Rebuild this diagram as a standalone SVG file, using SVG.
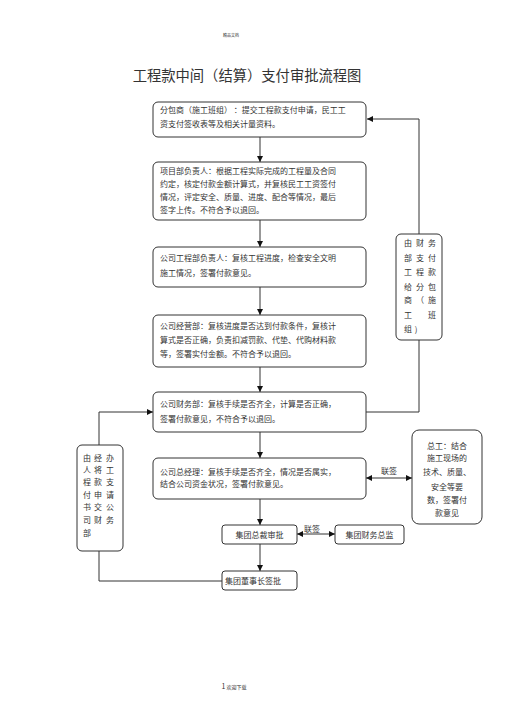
<svg xmlns="http://www.w3.org/2000/svg" width="505" height="714" viewBox="0 0 505 714">
<style>
text{font-family:"Noto Sans CJK SC","Noto Sans",sans-serif;fill:#333}
.t{font-size:8px}
.box{fill:#fff;stroke:#333;stroke-width:1}
.ln{fill:none;stroke:#333;stroke-width:1}
</style>
<defs>
<marker id="ah" viewBox="0 0 10 10" refX="10" refY="5" markerWidth="6" markerHeight="6" orient="auto-start-reverse" markerUnits="userSpaceOnUse">
<path d="M0,0L10,5L0,10z" fill="#111"/>
</marker>
</defs>
<rect width="505" height="714" fill="#fff"/>
<text x="231" y="37" font-size="4" text-anchor="middle" fill="#888">精品文档</text>
<text x="247" y="81" font-size="14.3" text-anchor="middle">工程款中间（结算）支付审批流程图</text>

<g id="connectors">
<line class="ln" x1="260" y1="137" x2="260" y2="162" marker-end="url(#ah)"/>
<line class="ln" x1="260" y1="220" x2="260" y2="247" marker-end="url(#ah)"/>
<line class="ln" x1="260" y1="287" x2="260" y2="315" marker-end="url(#ah)"/>
<line class="ln" x1="260" y1="367" x2="260" y2="392" marker-end="url(#ah)"/>
<line class="ln" x1="260" y1="432" x2="260" y2="458" marker-end="url(#ah)"/>
<line class="ln" x1="260" y1="499" x2="260" y2="525" marker-end="url(#ah)"/>
<line class="ln" x1="260" y1="544" x2="260" y2="571" marker-end="url(#ah)"/>
<polyline class="ln" points="366,412 419,412 419,340"/>
<polyline class="ln" points="419,234 419,119 367,119" marker-end="url(#ah)"/>
<polyline class="ln" points="222,581 99,581 99,551"/>
<polyline class="ln" points="99,445 99,412 153,412" marker-end="url(#ah)"/>
<line class="ln" x1="366" y1="478" x2="412" y2="478" marker-start="url(#ah)" marker-end="url(#ah)"/>
<line class="ln" x1="297" y1="534" x2="335" y2="534" marker-start="url(#ah)" marker-end="url(#ah)"/>
<text class="t" x="389" y="474" text-anchor="middle">联签</text>
<text class="t" x="312" y="532" text-anchor="middle">联签</text>
</g>

<g id="n1">
<rect class="box" x="153" y="102" width="213" height="35" rx="5"/>
<text class="t" x="160" y="113">分包商（施工班组） ：提交工程款支付申请，民工工</text>
<text class="t" x="160" y="127">资支付签收表等及相关计量资料。</text>
</g>
<g id="n2">
<rect class="box" x="153" y="162" width="213" height="58" rx="5"/>
<text class="t" x="160" y="174">项目部负责人：根据工程实际完成的工程量及合同</text>
<text class="t" x="160" y="187">约定，核定付款金额计算式，并复核民工工资签付</text>
<text class="t" x="160" y="200">情况，评定安全、质量、进度、配合等情况，最后</text>
<text class="t" x="160" y="213">签字上传。不符合予以退回。</text>
</g>
<g id="n3">
<rect class="box" x="153" y="247" width="213" height="40" rx="5"/>
<text class="t" x="160" y="261">公司工程部负责人：复核工程进度，检查安全文明</text>
<text class="t" x="160" y="276">施工情况，签署付款意见。</text>
</g>
<g id="n4">
<rect class="box" x="153" y="315" width="213" height="52" rx="5"/>
<text class="t" x="160" y="329">公司经营部：复核进度是否达到付款条件，复核计</text>
<text class="t" x="160" y="343">算式是否正确，负责扣减罚款、代垫、代购材料款</text>
<text class="t" x="160" y="357">等，签署实付金额。不符合予以退回。</text>
</g>
<g id="n5">
<rect class="box" x="153" y="392" width="213" height="40" rx="5"/>
<text class="t" x="160" y="407">公司财务部：复核手续是否齐全，计算是否正确，</text>
<text class="t" x="160" y="422">签署付款意见，不符合予以退回。</text>
</g>
<g id="n6">
<rect class="box" x="153" y="458" width="213" height="41" rx="5"/>
<text class="t" x="160" y="475">公司总经理：复核手续是否齐全，情况是否属实，</text>
<text class="t" x="160" y="487">结合公司资金状况，签署付款意见。</text>
</g>
<g id="n7">
<rect class="box" x="396" y="234" width="46" height="106" rx="5"/>
<g class="t" text-anchor="middle">
<text x="408" y="246">由</text><text x="420" y="246">财</text><text x="432" y="246">务</text>
<text x="408" y="261">部</text><text x="420" y="261">支</text><text x="432" y="261">付</text>
<text x="408" y="275">工</text><text x="420" y="275">程</text><text x="432" y="275">款</text>
<text x="408" y="290">给</text><text x="420" y="290">分</text><text x="432" y="290">包</text>
<text x="408" y="303">商</text><text x="420" y="303">（</text><text x="432" y="303">施</text>
<text x="408" y="318">工</text><text x="432" y="318">班</text>
<text x="408" y="332">组</text><text x="416" y="332">)</text>
</g>
</g>
<g id="n8">
<rect class="box" x="77" y="445" width="46" height="106" rx="5"/>
<g class="t" text-anchor="middle">
<text x="87" y="461">由</text><text x="98" y="461">经</text><text x="110" y="461">办</text>
<text x="87" y="473">人</text><text x="98" y="473">将</text><text x="110" y="473">工</text>
<text x="87" y="485">程</text><text x="98" y="485">款</text><text x="110" y="485">支</text>
<text x="87" y="498">付</text><text x="98" y="498">申</text><text x="110" y="498">请</text>
<text x="87" y="510">书</text><text x="98" y="510">交</text><text x="110" y="510">公</text>
<text x="87" y="523">司</text><text x="98" y="523">财</text><text x="110" y="523">务</text>
<text x="87" y="536">部</text>
</g>
</g>
<g id="n9">
<rect class="box" x="412" y="430" width="70" height="94" rx="7"/>
<g class="t" text-anchor="middle">
<text x="447" y="449">总工：结合</text>
<text x="447" y="461">施工现场的</text>
<text x="447" y="475">技术、质量、</text>
<text x="447" y="490">安全等要</text>
<text x="447" y="503">数，签署付</text>
<text x="447" y="516">款意见</text>
</g>
</g>
<g id="n10">
<rect class="box" x="222" y="525" width="75" height="19" rx="3"/>
<text class="t" x="259.5" y="537.5" text-anchor="middle">集团总裁审批</text>
</g>
<g id="n11">
<rect class="box" x="335" y="525" width="69" height="19" rx="3"/>
<text class="t" x="369.5" y="537.5" text-anchor="middle">集团财务总监</text>
</g>
<g id="n12">
<rect class="box" x="222" y="571" width="75" height="19" rx="3"/>
<text class="t" x="253" y="583.5" text-anchor="middle">集团董事长签批</text>
</g>
<text x="234" y="689" font-size="5" text-anchor="middle" fill="#666"><tspan font-size="7" fill="#333">1</tspan> 欢迎下载</text>
</svg>
